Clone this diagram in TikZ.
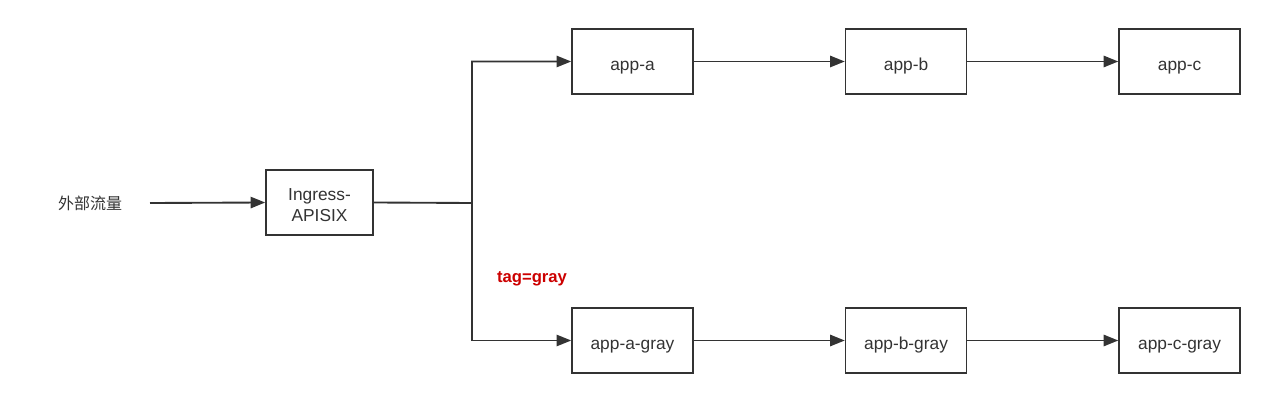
\documentclass[tikz,border=0pt]{standalone}
\usepackage{fontspec}
\setmainfont{Liberation Sans}
\newfontfamily\cjkfont{Noto Sans CJK SC}
\usepackage{tikz}
\usetikzlibrary{positioning,arrows.meta}
\definecolor{linegray}{RGB}{51,51,51}
\definecolor{textgray}{RGB}{51,51,51}
\definecolor{tagred}{RGB}{204,0,0}

\begin{document}
\begin{tikzpicture}[
  x=0.75pt, y=-0.75pt,
  node distance=113.2pt,
  box/.style={draw=linegray, line width=1.2pt, minimum width=90.75pt,
              minimum height=48.75pt, inner sep=0pt, align=center,
              text=textgray, font=\fontsize{13}{15.75}\selectfont,
              text height=12.8pt, text depth=0pt},
  arr/.style={-{Triangle[length=11pt,width=8.5pt]}, line width=1.4pt, draw=linegray},
  lab/.style={font=\bfseries\fontsize{12.5}{15}\selectfont, text=tagred}
]
  \useasboundingbox (0,0) rectangle (1269,402);

  \node[text=textgray, font=\cjkfont\fontsize{12}{14}\selectfont] (src) at (90,203) {外部流量};
  \node[box, minimum width=80.25pt, text height=29.25pt] (ingress) at (319.5,202.5) {Ingress-\\APISIX};
  \coordinate (split) at (472,203);
  \coordinate (srcend) at (150,203);

  % main line
  \node[box] (appa) at (632.5,61.5) {app-a};
  \node[box, right=of appa] (appb) {app-b};
  \node[box, right=of appb] (appc) {app-c};

  % gray line
  \node[box] (appag) at (632.5,340.5) {app-a-gray};
  \node[box, right=of appag] (appbg) {app-b-gray};
  \node[box, right=of appbg] (appcg) {app-c-gray};

  \node[lab] (tag) at (532,279) {tag=gray};

  \draw[arr] (srcend) -- (ingress.west);
  \draw[arr] (ingress.east) -- (split) |- (appa.west);
  \draw[arr] (split) |- (appag.west);
  \draw[arr] (appa) -- (appb);
  \draw[arr] (appb) -- (appc);
  \draw[arr] (appag) -- (appbg);
  \draw[arr] (appbg) -- (appcg);
\end{tikzpicture}
\end{document}
